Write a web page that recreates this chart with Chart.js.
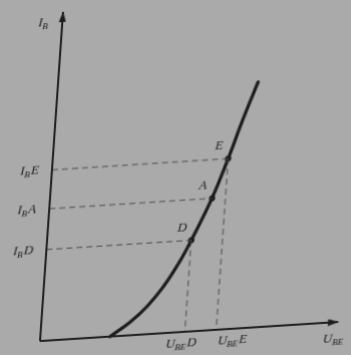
<!DOCTYPE html>
<html>
<head>
<meta charset="utf-8">
<script src="https://cdn.jsdelivr.net/npm/chart.js@4"></script>
<style>
  html, body { margin:0; padding:0; width:351px; height:355px; overflow:hidden; background:#aaaaaa; }
  #wrap { position:absolute; left:0; top:0; width:380px; height:380px;
          transform-origin:40px 341px; transform:matrix(1,-0.064,-0.07,1,0,0); }
  canvas { display:block; }
</style>
</head>
<body>
<div id="wrap"><canvas id="c" width="380" height="380"></canvas></div>
<script>
// ---- data ----
const curveX = [2.35, 2.99, 3.52, 4.03, 4.53, 4.86, 5.46, 5.91, 6.31, 6.74];
const curveY = [0.00, 0.40, 0.84, 1.42, 2.17, 2.78, 4.02, 5.20, 6.35, 7.48];
const pointNames = ['D', 'A', 'E'];
const pointX = [4.86, 5.46, 5.91];
const pointY = [2.78, 4.02, 5.20];
const yTickMain = ['I', 'I', 'I'];
const yTickSub = ['B', 'B', 'B'];
const yTickSuffix = ['D', 'A', 'E'];
const xTickPoints = ['D', 'E'];
const xTickMain = ['U', 'U'];
const xTickSub = ['BE', 'BE'];
const xTickSuffix = ['D', 'E'];
const yAxisName = ['I', 'B'];
const xAxisName = ['U', 'BE'];

const INK = '#1c1c1c';
const DASH = '#4a4a4a';

const datasets = [];
// axes
datasets.push({ data:[{x:0,y:0},{x:10,y:0}], borderColor:INK, borderWidth:2, pointRadius:0, clip:false });
datasets.push({ data:[{x:0,y:0},{x:0,y:10}], borderColor:INK, borderWidth:2, pointRadius:0, clip:false });
// dashed guides
pointNames.forEach((n,i)=>{
  datasets.push({ data:[{x:0,y:pointY[i]},{x:pointX[i],y:pointY[i]}], borderColor:DASH, borderWidth:1, borderDash:[6,4], pointRadius:0, clip:false });
  if (xTickPoints.includes(n)) {
    datasets.push({ data:[{x:pointX[i],y:pointY[i]},{x:pointX[i],y:0}], borderColor:DASH, borderWidth:1, borderDash:[6,4], pointRadius:0, clip:false });
  }
});
// curve
datasets.push({ data: curveX.map((x,i)=>({x, y:curveY[i]})), borderColor:INK, borderWidth:3.4,
  pointRadius:0, tension:0.4, clip:false, borderCapStyle:'round' });
// marked points
datasets.push({ data: pointX.map((x,i)=>({x, y:pointY[i]})), showLine:false, pointRadius:2.8,
  pointBackgroundColor:INK, pointBorderColor:INK, clip:false });

function subText(ctx, main, sub, suffix, x, y, align) {
  const big = 'italic 13px "Liberation Serif", serif';
  const small = 'italic 9px "Liberation Serif", serif';
  ctx.font = big; const w1 = ctx.measureText(main).width;
  const w3 = ctx.measureText(suffix).width;
  ctx.font = small; const w2 = ctx.measureText(sub).width;
  const total = w1 + w2 + 1 + w3;
  let sx = x;
  if (align === 'right') sx = x - total;
  else if (align === 'center') sx = x - total/2;
  ctx.textBaseline = 'middle'; ctx.textAlign = 'left';
  ctx.font = big; ctx.fillText(main, sx, y);
  ctx.font = small; ctx.fillText(sub, sx + w1, y + 4);
  ctx.font = big; ctx.fillText(suffix, sx + w1 + w2 + 1, y);
}

const labelPlugin = {
  id:'labels',
  afterDatasetsDraw(chart) {
    const ctx = chart.ctx, xs = chart.scales.x, ys = chart.scales.y;
    ctx.save();
    ctx.fillStyle = INK;
    // arrowheads
    const ox = xs.getPixelForValue(0), oy = ys.getPixelForValue(0);
    const tx = xs.getPixelForValue(10), ty = ys.getPixelForValue(10);
    ctx.beginPath(); ctx.moveTo(tx+1, oy); ctx.lineTo(tx-10, oy-3.5); ctx.lineTo(tx-10, oy+3.5); ctx.closePath(); ctx.fill();
    ctx.beginPath(); ctx.moveTo(ox, ty-1); ctx.lineTo(ox-3.5, ty+10); ctx.lineTo(ox+3.5, ty+10); ctx.closePath(); ctx.fill();
    // axis names
    subText(ctx, yAxisName[0], yAxisName[1], '', ox - 24, ty + 10, 'left');
    subText(ctx, xAxisName[0], xAxisName[1], '', tx - 14, oy + 17, 'left');
    // y tick labels
    pointY.forEach((v,i)=>{
      subText(ctx, yTickMain[i], yTickSub[i], yTickSuffix[i], ox - 13, ys.getPixelForValue(v), 'right');
    });
    // x tick labels
    xTickPoints.forEach((n,k)=>{
      const i = pointNames.indexOf(n);
      const px = xs.getPixelForValue(pointX[i]);
      subText(ctx, xTickMain[k], xTickSub[k], xTickSuffix[k], px + (k===0 ? -3 : 17), oy + 12, 'center');
    });
    // point letters
    ctx.font = 'italic 13px "Liberation Serif", serif';
    ctx.textAlign = 'center'; ctx.textBaseline = 'middle';
    pointNames.forEach((n,i)=>{
      ctx.fillText(n, xs.getPixelForValue(pointX[i]) - 10, ys.getPixelForValue(pointY[i]) - 13);
    });
    ctx.restore();
  }
};

new Chart(document.getElementById('c'), {
  type:'line',
  data:{ datasets },
  options:{
    responsive:false, animation:false, devicePixelRatio:1,
    layout:{ padding:{ left:40, right:42, top:12, bottom:39 } },
    plugins:{ legend:{display:false}, tooltip:{enabled:false} },
    scales:{
      x:{ type:'linear', min:0, max:10, display:false },
      y:{ type:'linear', min:0, max:10, display:false }
    }
  },
  plugins:[labelPlugin]
});
</script>
</body>
</html>
